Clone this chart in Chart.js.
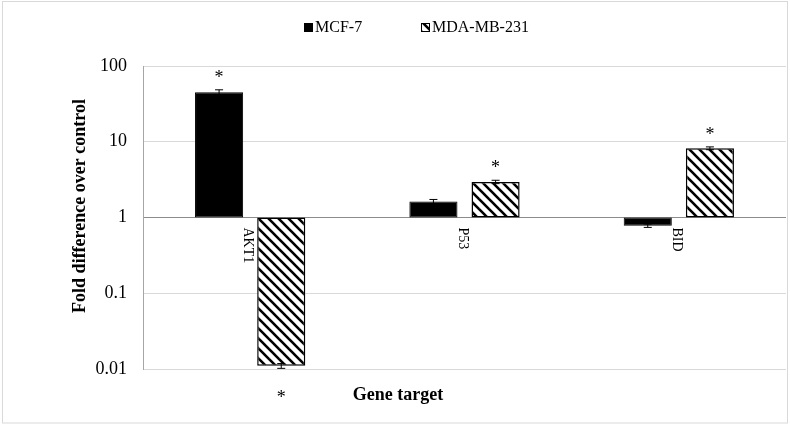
<!DOCTYPE html>
<html>
<head>
<meta charset="utf-8">
<script src="https://cdn.jsdelivr.net/npm/chart.js@4/dist/chart.umd.min.js"></script>
<style>
  html, body { margin: 0; padding: 0; background: #fff; }
  #wrap { width: 790px; height: 427px; }
</style>
</head>
<body>
<div id="wrap"><canvas id="c"></canvas></div>
<script>
const categories = ["AKT1", "P53", "BID"]
const seriesNames = ["MCF-7", "MDA-MB-231"]
const mcf7 = [45, 1.63, 0.78]
const mcf7Err = [3.5, 0.1, 0.04]
const mcf7Sig = [true, false, false]
const mda = [0.011, 2.95, 8.2]
const mdaErr = [0.0008, 0.15, 0.35]
const mdaSig = [true, true, true]
const yTicks = [0.01, 0.1, 1, 10, 100]
const yTickLabels = ["0.01", "0.1", "1", "10", "100"]
const xTitle = "Gene target"
const yTitle = "Fold difference over control"
const baseValue = 1

const SERIF = "'Liberation Serif', 'Times New Roman', serif"

// штриховка "\\\" для второй серии
function hatch() {
  const c = document.createElement("canvas")
  c.width = 10; c.height = 10
  const g = c.getContext("2d")
  g.fillStyle = "#fff"; g.fillRect(0, 0, 10, 10)
  g.strokeStyle = "#000"; g.lineWidth = 2.6
  for (const k of [-10, 0, 10]) {
    g.beginPath(); g.moveTo(k - 2, -2); g.lineTo(k + 12, 12); g.stroke()
  }
  return g.createPattern(c, "repeat")
}
const hatchFill = hatch()

const errs = [mcf7Err, mdaErr]
const sigs = [mcf7Sig, mdaSig]

const extras = {
  id: "extras",
  beforeDraw(chart) {
    const ctx = chart.ctx
    ctx.save()
    ctx.fillStyle = "#fff"; ctx.fillRect(0, 0, chart.width, chart.height)
    ctx.strokeStyle = "#d9d9d9"; ctx.lineWidth = 1
    ctx.strokeRect(2.5, 1.5, 785, 421.5)
    ctx.restore()
  },
  afterDatasetsDraw(chart) {
    const ctx = chart.ctx, y = chart.scales.y, x = chart.scales.x
    ctx.save()
    // error bars + asterisks
    chart.data.datasets.forEach((ds, di) => {
      const meta = chart.getDatasetMeta(di)
      meta.data.forEach((bar, i) => {
        const v = ds.data[i][1], e = errs[di][i]
        const cx = bar.x
        const yHi = y.getPixelForValue(v + e), yLo = y.getPixelForValue(v - e)
        ctx.strokeStyle = "#000"; ctx.lineWidth = 1
        ctx.beginPath()
        ctx.moveTo(cx, yHi); ctx.lineTo(cx, yLo)
        ctx.moveTo(cx - 4, yHi); ctx.lineTo(cx + 4, yHi)
        ctx.moveTo(cx - 4, yLo); ctx.lineTo(cx + 4, yLo)
        ctx.stroke()
        if (sigs[di][i]) {
          ctx.fillStyle = "#000"
          ctx.font = "18px " + SERIF
          ctx.textAlign = "center"; ctx.textBaseline = "middle"
          const ty = v >= baseValue ? y.getPixelForValue(v + e) - 12 : y.getPixelForValue(v - e) + 30
          ctx.fillText("*", cx, ty)
        }
      })
    })
    // category labels rotated, hanging from the y=1 line
    const y1 = y.getPixelForValue(baseValue)
    ctx.fillStyle = "#000"
    ctx.font = "14px " + SERIF
    categories.forEach((c, i) => {
      const cx = x.getPixelForValue(i)
      ctx.save()
      ctx.translate(cx - 2, y1 + 10)
      ctx.rotate(Math.PI / 2)
      ctx.textAlign = "left"; ctx.textBaseline = "middle"
      ctx.fillText(c, 0, 0)
      ctx.restore()
    })
    // axis titles
    ctx.font = "bold 18px " + SERIF
    ctx.textAlign = "center"; ctx.textBaseline = "middle"
    ctx.fillText(xTitle, 398, 395)
    ctx.save()
    ctx.translate(80, 206)
    ctx.rotate(-Math.PI / 2)
    ctx.fillText(yTitle, 0, 0)
    ctx.restore()
    // legend
    ctx.font = "16px " + SERIF
    ctx.textAlign = "left"; ctx.textBaseline = "middle"
    const lx = [304, 421]
    chart.data.datasets.forEach((ds, di) => {
      ctx.fillStyle = ds.backgroundColor
      ctx.fillRect(lx[di], 23, 9, 9)
      if (di === 1) { ctx.strokeStyle = "#000"; ctx.lineWidth = 1; ctx.strokeRect(lx[di] + 0.5, 23.5, 8, 8) }
      ctx.fillStyle = "#000"
      ctx.fillText(ds.label, lx[di] + 11, 27.5)
    })
    ctx.restore()
  }
}

new Chart(document.getElementById("c").getContext("2d"), {
  type: "bar",
  data: {
    labels: categories,
    datasets: [
      { label: seriesNames[0], data: mcf7.map(v => [baseValue, v]),
        backgroundColor: "#000", borderColor: "#000", borderWidth: 1, borderSkipped: false,
        barPercentage: 0.774, categoryPercentage: 0.58 },
      { label: seriesNames[1], data: mda.map(v => [baseValue, v]),
        backgroundColor: hatchFill, borderColor: "#000", borderWidth: 1.5, borderSkipped: false,
        barPercentage: 0.774, categoryPercentage: 0.58 }
    ]
  },
  options: {
    responsive: true,
    maintainAspectRatio: false,
    animation: false,
    layout: { padding: { top: 66, left: 44, right: 4, bottom: 58 } },
    plugins: { legend: { display: false }, tooltip: { enabled: false } },
    scales: {
      x: { display: false },
      y: {
        type: "logarithmic", min: 0.01, max: 100,
        afterBuildTicks: s => { s.ticks = yTicks.map(v => ({ value: v })) },
        afterFit: s => { s.width = 99 },
        grid: { drawTicks: false, color: c => (c.tick && c.tick.value === 1 ? "#8c8c8c" : "#d9d9d9"), lineWidth: 1 },
        border: { display: true, color: "#a6a6a6" },
        ticks: { padding: 16, color: "#000", font: { family: SERIF, size: 18 },
                 callback: (v, i) => yTickLabels[i] }
      }
    }
  },
  plugins: [extras]
})
</script>
</body>
</html>
